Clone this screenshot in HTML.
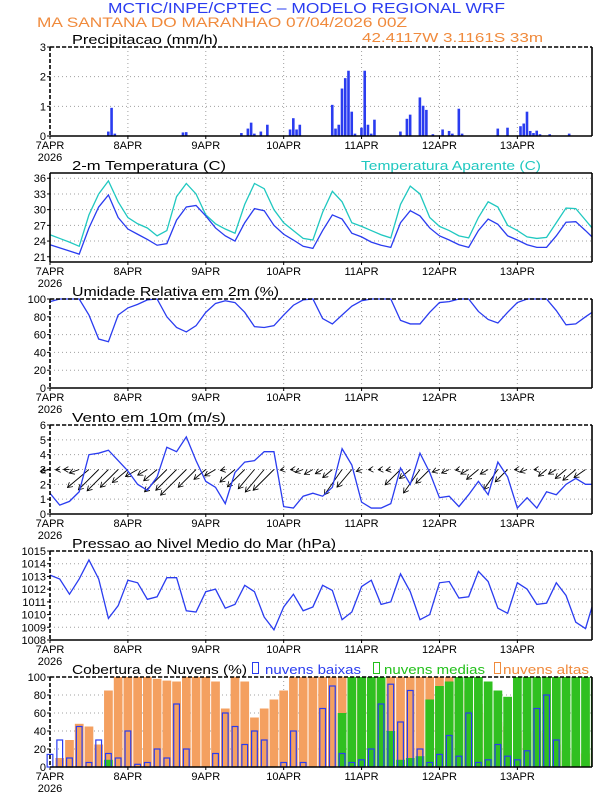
<!DOCTYPE html>
<html><head><meta charset="utf-8"><style>
html,body{margin:0;padding:0;background:#fff}
svg{display:block;font-family:"Liberation Sans",sans-serif}
</style></head><body>
<svg id="chart" width="612" height="792" viewBox="0 0 612 792" xmlns="http://www.w3.org/2000/svg">
<defs><marker id="ah" markerWidth="6" markerHeight="6" refX="5" refY="3" orient="auto" markerUnits="userSpaceOnUse"><path d="M0,0 L5,3 L0,6" fill="none" stroke="#000" stroke-width="0.8"/></marker></defs>
<text x="108" y="13" font-size="15" fill="#2a3cf0" textLength="397" lengthAdjust="spacingAndGlyphs">MCTIC/INPE/CPTEC – MODELO REGIONAL WRF</text>
<text x="37" y="27" font-size="14" fill="#f08a3c" textLength="370" lengthAdjust="spacingAndGlyphs">MA SANTANA DO MARANHAO    07/04/2026 00Z</text>
<text x="362" y="42" font-size="13" fill="#f08a3c" textLength="181" lengthAdjust="spacingAndGlyphs">42.4117W 3.1161S 33m</text>
<text x="72" y="44" font-size="13" fill="#000" textLength="146" lengthAdjust="spacingAndGlyphs">Precipitacao (mm/h)</text>
<text x="72" y="170" font-size="13" fill="#000" textLength="154" lengthAdjust="spacingAndGlyphs">2-m Temperatura (C)</text>
<text x="361" y="170" font-size="13" fill="#20c8c0" textLength="180" lengthAdjust="spacingAndGlyphs">Temperatura Aparente (C)</text>
<text x="72" y="296" font-size="13" fill="#000" textLength="207" lengthAdjust="spacingAndGlyphs">Umidade Relativa em 2m (%)</text>
<text x="72" y="422" font-size="13" fill="#000" textLength="154" lengthAdjust="spacingAndGlyphs">Vento em 10m (m/s)</text>
<text x="72" y="548" font-size="13" fill="#000" textLength="264" lengthAdjust="spacingAndGlyphs">Pressao ao Nivel Medio do Mar (hPa)</text>
<text x="72" y="674" font-size="13" fill="#000" textLength="175" lengthAdjust="spacingAndGlyphs">Cobertura de Nuvens (%)</text>
<rect x="252.5" y="662.5" width="6" height="11" fill="none" stroke="#2a3cf0"/>
<text x="265" y="674" font-size="13" fill="#2a3cf0" textLength="96" lengthAdjust="spacingAndGlyphs">nuvens baixas</text>
<rect x="373.5" y="662.5" width="6" height="11" fill="none" stroke="#22c01a"/>
<text x="384" y="674" font-size="13" fill="#22c01a" textLength="101" lengthAdjust="spacingAndGlyphs">nuvens medias</text>
<rect x="494.5" y="662.5" width="6" height="11" fill="none" stroke="#f08a3c"/>
<text x="503" y="674" font-size="13" fill="#f08a3c" textLength="86" lengthAdjust="spacingAndGlyphs">nuvens altas</text>
<g id="plots"></g>
</svg>
<script>
// 3-hourly times 0..168
const hours3 = [0,3,6,9,12,15,18,21,24,27,30,33,36,39,42,45,48,51,54,57,60,63,66,69,72,75,78,81,84,87,90,93,96,99,102,105,108,111,114,117,120,123,126,129,132,135,138,141,144,147,150,153,156,159,162,165,168];
const dayLabels = ["7APR","8APR","9APR","10APR","11APR","12APR","13APR"];
const precipHours = [18,19,20,41,42,59,61,62,63,65,67,74,75,76,77,87,88,89,90,91,92,93,94,96,97,98,99,100,108,110,111,114,115,116,118,121,123,124,126,127,138,141,145,146,147,148,149,150,151,154,160];
const precipVals = [0.15,0.95,0.08,0.12,0.13,0.1,0.25,0.45,0.08,0.15,0.38,0.22,0.6,0.22,0.38,1.05,0.25,0.38,1.6,1.95,2.2,0.82,0.08,0.28,2.2,0.38,0.08,0.55,0.15,0.58,0.72,1.3,1.02,0.88,0.06,0.22,0.17,0.08,0.92,0.08,0.25,0.28,0.33,0.42,0.82,0.17,0.1,0.18,0.06,0.06,0.08];
const tempVals = [23.3,22.7,22.1,21.5,26.5,30.5,32.8,28.5,26.3,25.3,24.3,23.2,23.5,28.0,30.5,30.8,28.8,26.5,25.0,24.0,27.5,30.2,29.8,27.0,25.3,24.2,23.0,22.6,26.0,29.0,28.2,25.5,24.8,23.8,23.2,22.8,27.5,29.8,28.8,26.5,25.0,24.2,23.3,22.8,26.0,28.2,27.2,25.0,24.2,23.3,22.8,22.8,25.0,27.6,27.7,26.0,24.8];
const appTempVals = [25.2,24.5,23.8,23.0,29.0,33.0,35.5,31.5,28.5,27.3,26.5,25.0,26.0,32.5,35.0,33.0,29.0,27.3,26.3,25.5,31.0,35.0,34.0,30.0,27.5,26.0,24.5,24.2,29.5,33.5,31.5,27.5,26.8,26.0,25.2,24.6,31.0,34.5,33.0,28.5,26.8,26.0,25.0,24.6,28.5,31.5,30.5,27.0,26.0,24.8,24.5,24.7,27.5,30.3,30.2,28.0,26.5];
const rhVals = [97,100,100,100,82,55,52,82,90,94,99,100,80,68,63,70,85,95,98,96,85,69,68,70,82,93,99,100,78,72,82,92,98,100,100,100,76,72,72,85,96,97,100,100,86,77,73,85,96,100,100,100,87,71,72,80,85];
const windVals = [1.4,0.6,0.85,1.5,4.0,4.1,4.3,3.6,2.9,2.0,1.6,2.5,4.5,4.2,5.2,3.6,2.2,1.8,0.7,2.8,3.5,3.6,4.2,4.2,0.5,0.4,1.2,1.4,1.2,1.8,4.4,3.3,0.8,0.4,0.4,0.7,3.1,2.0,4.1,2.8,1.1,1.2,0.5,1.3,2.2,1.3,3.5,2.5,0.4,1.1,0.4,1.5,1.3,2.0,2.4,2.0,2.0];
const windDirDeg = [10,5,0,20,40,45,45,45,40,30,30,40,45,45,45,45,40,30,10,40,45,50,50,45,10,5,20,30,30,40,55,50,20,5,5,10,45,40,55,45,20,25,10,30,40,30,55,45,5,20,5,40,30,40,40,35,30];
const pressVals = [1013.1,1012.8,1011.6,1012.8,1014.3,1012.8,1009.7,1010.7,1012.7,1012.5,1011.2,1011.4,1012.9,1012.9,1010.3,1010.2,1011.8,1012.0,1010.5,1010.8,1012.3,1011.8,1009.8,1008.8,1010.6,1011.6,1010.3,1010.6,1012.3,1011.9,1009.6,1010.2,1012.2,1012.7,1010.8,1011.0,1013.2,1011.8,1009.6,1010.0,1012.5,1012.6,1011.3,1011.4,1013.4,1012.6,1010.5,1010.1,1012.5,1012.0,1010.8,1010.9,1012.5,1011.5,1009.4,1008.9,1010.6];
const cloudHigh = [0,10,30,48,45,25,85,100,100,100,100,98,96,95,100,100,100,95,65,100,95,55,65,75,85,100,100,100,100,100,100,100,100,100,100,100,100,100,100,100,100,100,95,85,70,60,50,45,40,38,40,38,25,18,15,15,15];
const cloudMid = [0,0,0,0,0,0,8,0,0,0,0,0,0,0,0,0,0,0,0,0,0,0,0,0,0,0,0,0,0,0,60,100,100,100,100,40,8,10,12,75,90,95,100,100,100,95,85,78,100,100,100,100,100,100,100,100,100];
const cloudLow = [14,30,10,45,5,30,15,10,40,3,5,20,10,70,20,0,0,15,60,45,25,40,30,0,5,40,5,0,65,90,15,5,8,20,70,92,50,85,20,5,14,35,12,60,5,8,25,12,8,18,65,80,30,0,0,0,0];

const NS='http://www.w3.org/2000/svg';
const root=document.getElementById('plots');
const X0=50,X1=592,HMAX=167;
function x(h){return X0+h*(X1-X0)/HMAX;}
function mk(tag,attrs,parent){const e=document.createElementNS(NS,tag);for(const k in attrs)e.setAttribute(k,attrs[k]);(parent||root).appendChild(e);return e;}
function yScale(top,bot,lo,hi){return v=>bot-(v-lo)/(hi-lo)*(bot-top);}

function panel(name,top,bot,lo,hi,ticks,dashed){
  const g=mk('g',{});
  
  
  const y=yScale(top,bot,lo,hi);
  ticks.forEach(t=>{
    const gl=mk('line',{x1:X0,x2:X1,y1:y(t),y2:y(t),stroke:'#a0a0a0','stroke-width':1,'stroke-dasharray':'1,3'},g);
    
    
    const lb=mk('text',{x:46,y:y(t)+4,'font-size':11,'text-anchor':'end',fill:'#000'},g);
    lb.textContent=t;
    
    
    mk('line',{x1:X0-3,x2:X0,y1:y(t),y2:y(t),stroke:'#000'},g);
  });
  dayLabels.forEach((d,i)=>{
    const xx=x(i*24);
    if(i>0){const vl=mk('line',{x1:xx,x2:xx,y1:top,y2:bot,stroke:'#a0a0a0','stroke-width':1,'stroke-dasharray':'1,3'},g);
      
      }
    mk('line',{x1:xx,x2:xx,y1:bot,y2:bot+3,stroke:'#000'},g);
    const lb=mk('text',{x:xx,y:bot+13,'font-size':11,'text-anchor':'middle',fill:'#000'},g);
    lb.textContent=d;
    
    
  });
  const yr=mk('text',{x:50,y:bot+25,'font-size':11,'text-anchor':'middle',fill:'#000'},g);
  yr.textContent='2026';
  
  
  const pl=mk('g',{},g);
  const fr=mk('g',{},g);
  const da=dashed?'4,2':'none';
  mk('line',{x1:X0,x2:X1,y1:top,y2:top,stroke:'#000','stroke-width':1.6,'stroke-dasharray':da},fr);
  mk('line',{x1:X0,x2:X0,y1:top,y2:bot,stroke:'#000','stroke-width':1.6,'stroke-dasharray':da},fr);
  mk('line',{x1:X1,x2:X1,y1:top,y2:bot,stroke:'#000','stroke-width':1.6},fr);
  mk('line',{x1:X0,x2:X1,y1:bot,y2:bot,stroke:'#000','stroke-width':1.6},fr);
  return {y,g:pl};
}
function line(p,vals,color,name){
  const pts=hours3.map((h,i)=>[Math.min(x(h),X1),p.y(vals[i])]);
  const e=mk('polyline',{points:pts.map(q=>q.join(',')).join(' '),fill:'none',stroke:color,'stroke-width':1.3},p.g);
  
  
}

const P1=panel('precip',47,136,0,3,[0,1,2,3],true);
precipHours.forEach((h,i)=>{
  const b=mk('rect',{x:x(h)-1.4,y:P1.y(precipVals[i]),width:2.6,height:136-P1.y(precipVals[i]),fill:'#2a3cf0'},P1.g);
  
  
});
const P2=panel('temp',173,262,20,37,[21,24,27,30,33,36],false);
line(P2,appTempVals,'#20c8c0','apparent-temp-line');
line(P2,tempVals,'#2a3cf0','temp-line');
const P3=panel('rh',299,388,0,100,[0,20,40,60,80,100],true);
line(P3,rhVals,'#2a3cf0','rh-line');
const P4=panel('wind',425,514,0,6,[0,1,2,3,4,5,6],true);
hours3.forEach((h,i)=>{
  if(h>HMAX-2)return;
  const s=windVals[i],a=windDirDeg[i]*Math.PI/180,L=7*s;
  const x0=x(h),y0=P4.y(3);
  const ar=mk('line',{x1:x0,y1:y0,x2:x0-L*Math.cos(a),y2:y0+L*Math.sin(a),stroke:'#000','stroke-width':0.9,'marker-end':'url(#ah)'},P4.g);
  
  
});
line(P4,windVals,'#2a3cf0','wind-speed-line');
const P5=panel('pressure',551,640,1008,1015,[1008,1009,1010,1011,1012,1013,1014,1015],true);
line(P5,pressVals,'#2a3cf0','pressure-line');
const P6=panel('cloud',677,767,0,100,[0,20,40,60,80,100],true);
const bw=(x(3)-x(0));
function bars(vals,fill,stroke,name,w){
  hours3.forEach((h,i)=>{
    const v=vals[i]; if(v<=0)return;
    const xl=x(h)-w/2, xr=Math.min(xl+w,X1);
    if(xl>=X1)return;
    const r=mk('rect',{x:xl,y:P6.y(v),width:xr-xl,height:767-P6.y(v),fill:fill,stroke:stroke,'stroke-width':stroke=='none'?0:1.2},P6.g);
    
    
  });
}
bars(cloudHigh,'#f4a060','none','cloud-high-bar',bw-1);
bars(cloudMid,'#30c020','none','cloud-mid-bar',bw-1);
bars(cloudLow,'none','#2a3cf0','cloud-low-bar',bw-4);
</script>
</body></html>
